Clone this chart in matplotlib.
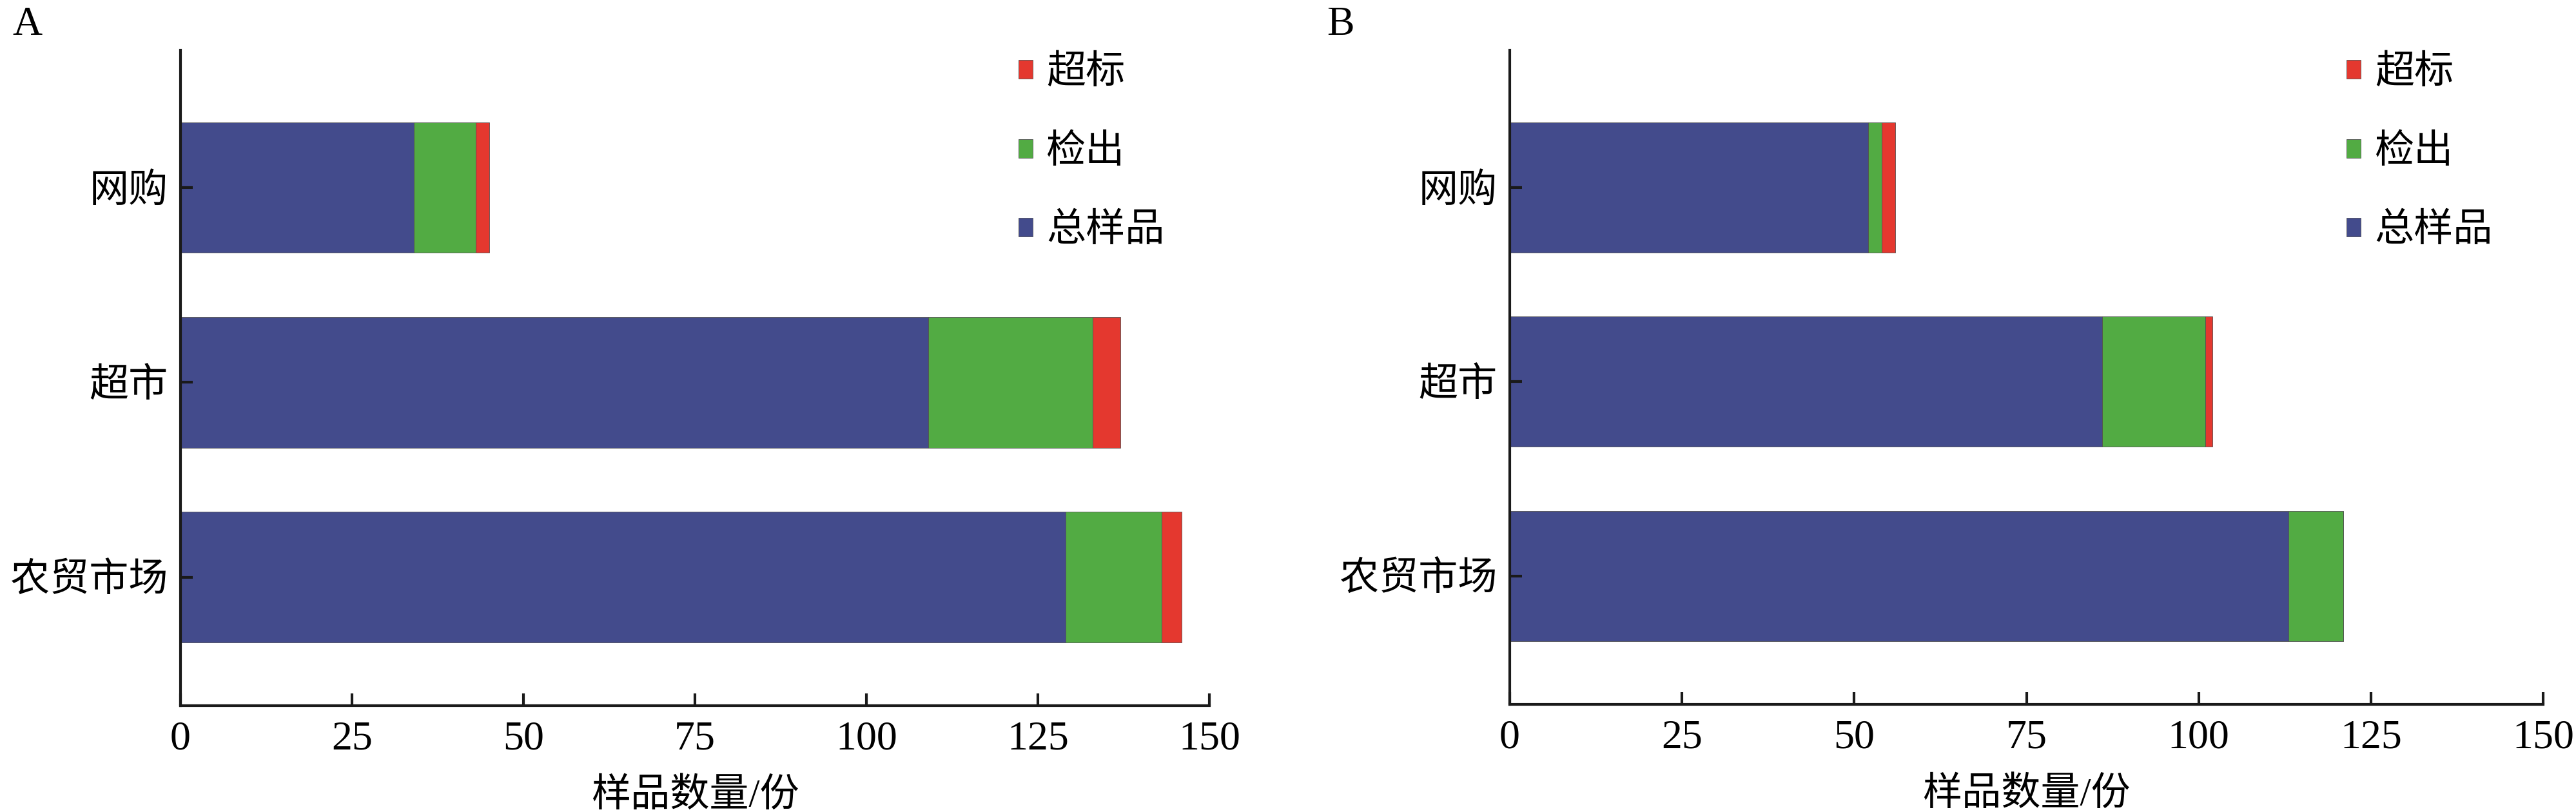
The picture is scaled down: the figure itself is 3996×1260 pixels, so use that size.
import matplotlib
matplotlib.use("Agg")
import matplotlib.pyplot as plt
import numpy as np

plt.rcParams['font.family'] = ['Liberation Serif', 'Noto Sans CJK SC', 'DejaVu Sans']

categories = ['网购', '超市', '农贸市场']
series_names = ['总样品', '检出', '超标']
colors = ['#434B8C', '#52AB43', '#E4382F']

# segment lengths (A and B panels)
a_total = [34, 109, 129]
a_detect = [9, 24, 14]
a_over = [2, 4, 3]

b_total = [52, 86, 113]
b_detect = [2, 15, 8]
b_over = [2, 1, 0]

xticks = [0, 25, 50, 75, 100, 125, 150]
xlabel = '样品数量/份'

W, H = 3996, 1260
fig = plt.figure(figsize=(W / 100, H / 100), dpi=100)

ax_a = fig.add_axes([280 / W, 1 - 1095 / H, 1596 / W, (1095 - 78) / H])
ax_b = fig.add_axes([2342 / W, 1 - 1093 / H, 1603 / W, (1093 - 78) / H])


def draw(ax, segs, legend_x):
    ypos = np.arange(len(categories))[::-1]
    left = np.zeros(len(categories))
    handles = []
    for vals, name, c in zip(segs, series_names, colors):
        vals = np.array(vals, dtype=float)
        b = ax.barh(ypos, vals, left=left, height=0.67, color=c,
                    edgecolor='#505050', linewidth=0.6, label=name)
        handles.append(b)
        left = left + vals

    ax.set_xlim(0, 150)
    ax.set_ylim(-0.66, 2.705)
    ax.set_xticks(xticks)
    ax.set_xticklabels([str(t) for t in xticks])
    ax.set_yticks(ypos)
    ax.set_yticklabels(categories)
    for s in ['top', 'right']:
        ax.spines[s].set_visible(False)
    for s in ['left', 'bottom']:
        ax.spines[s].set_linewidth(3)
        ax.spines[s].set_color('#1a1a1a')
    ax.tick_params(axis='both', direction='in', length=13.5, width=3,
                   color='#1a1a1a')
    ax.tick_params(axis='x', labelsize=46, pad=17)
    ax.tick_params(axis='y', labelsize=44, pad=14)
    ax.set_xlabel(xlabel, fontsize=44, labelpad=22)

    ax.legend(handles[::-1], series_names[::-1], loc='upper left',
              bbox_to_anchor=(legend_x, 0.992), frameon=False,
              fontsize=44, handlelength=0.36, handleheight=0.36,
              handletextpad=0.35, labelspacing=1.08,
              borderpad=0, borderaxespad=0)


draw(ax_a, [a_total, a_detect, a_over], 0.8145)
draw(ax_b, [b_total, b_detect, b_over], 0.810)

fig.text(19 / W, 1 - 10 / H, 'A', fontsize=46, va='top', ha='left')
fig.text(2058 / W, 1 - 10 / H, 'B', fontsize=46, va='top', ha='left')

fig.savefig('out.png', dpi=100)
